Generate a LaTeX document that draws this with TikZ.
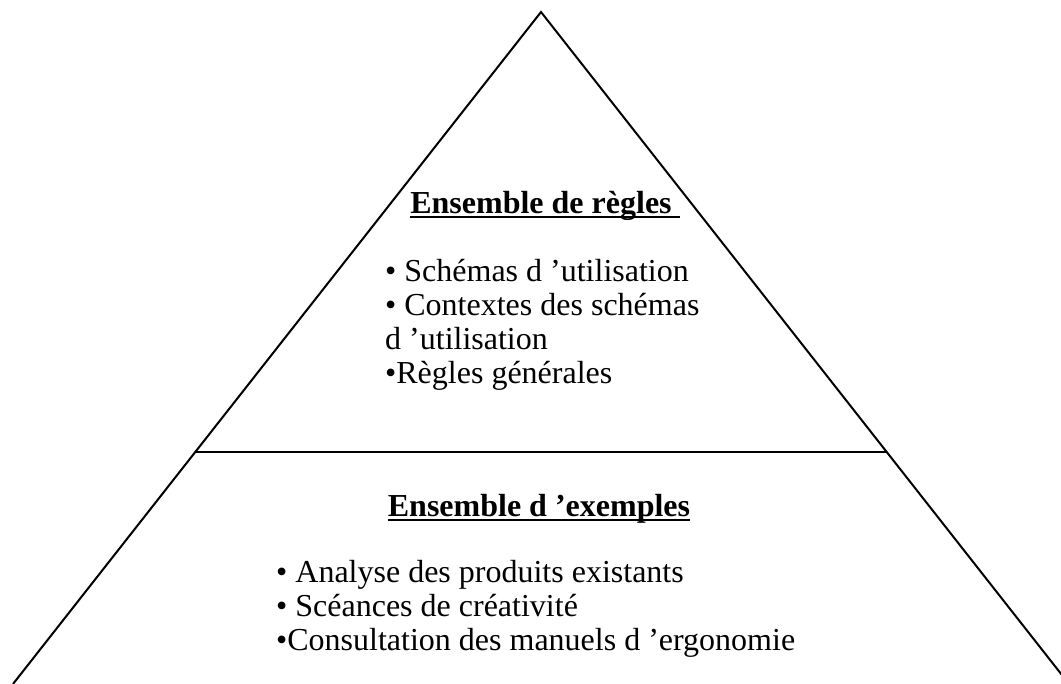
\documentclass[tikz,border=0pt]{standalone}
\usepackage{fontspec}
\setmainfont{Liberation Serif}
\usetikzlibrary{calc}
% underline with a heavier rule than \underline gives
\newcommand{\heavyul}[1]{\setbox0\hbox{#1}\rlap{\rule[-4.5pt]{\wd0}{2.2pt}}\box0}
\begin{document}
\begin{tikzpicture}[x=1pt,y=-1pt,
  edge/.style={line width=2pt,black},
  title/.style={font=\fontsize{32}{34}\selectfont\bfseries,inner sep=0pt,anchor=base},
  item/.style={font=\fontsize{32}{34}\selectfont,inner sep=0pt,anchor=base west}]
  \useasboundingbox (0,0) rectangle (1061,684);
  \clip (0,0) rectangle (1061,684);
  % pyramid outline
  \coordinate (apex) at (541,12);
  \coordinate (bl) at (13,684);
  \coordinate (br) at (1069,684);
  \coordinate (ml) at ($(apex)!0.6548!(bl)$);
  \coordinate (mr) at ($(apex)!0.6548!(br)$);
  \draw[edge] (bl) -- (apex) -- (br);
  \draw[edge,line width=2.4pt] (ml) -- (mr);
  % upper tier: rules
  \node[title] (rules) at (545,214) {\heavyul{Ensemble de règles\ }};
  \node[item] (r1) at (385,282) {• Schémas d ’utilisation};
  \node[item] (r2) at (385,316) {• Contextes des schémas};
  \node[item] (r3) at (385,350) {d ’utilisation};
  \node[item] (r4) at (385,384) {•Règles générales};
  % lower tier: examples
  \node[title] (examples) at (539,517) {\heavyul{Ensemble d ’exemples}};
  \node[item] (e1) at (276,582) {• Analyse des produits existants};
  \node[item] (e2) at (276,616) {• Scéances de créativité};
  \node[item] (e3) at (276,650) {•Consultation des manuels d ’ergonomie};
\end{tikzpicture}
\end{document}
